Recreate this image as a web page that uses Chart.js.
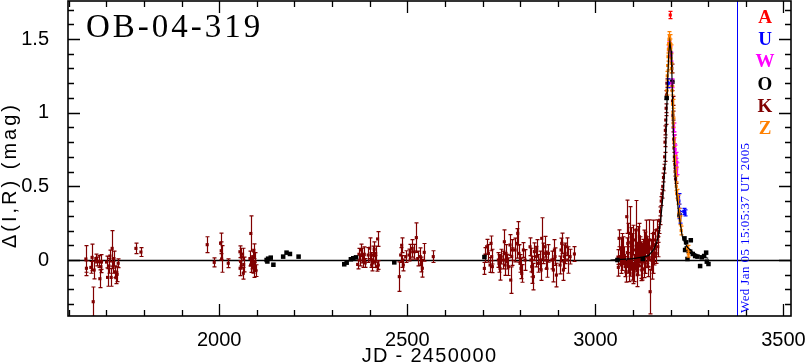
<!DOCTYPE html>
<html lang="en">
<head>
<meta charset="UTF-8" />
<title>OB-04-319</title>
<script src="https://cdn.jsdelivr.net/npm/chart.js@4.4.1/dist/chart.umd.min.js"></script>
<style>
  html, body { margin: 0; padding: 0; background: #fff; }
</style>
</head>
<body>
<canvas id="lc" width="805" height="362"></canvas>
<script>
// data: [JD - 2450000, delta mag, error]
const kPoints = [
  [1645.5,0.007,0.09],[1647,-0.056,0.05],[1658.8,-0.05,0.04],[1662,0.018,0.09],[1665,-0.283,0.1],
  [1667.6,-0.068,0.06],[1672,0.01,0.03],[1675,-0.01,0.03],[1681,-0.01,0.04],[1682.7,-0.127,0.06],
  [1685.4,-0.045,0.04],[1687,-0.014,0.05],[1700.5,-0.014,0.04],[1703.2,-0.118,0.06],[1706.6,-0.04,0.05],
  [1709.3,0.027,0.04],[1712.8,-0.118,0.06],[1715.4,0.079,0.12],[1718,-0.05,0.04],[1720,0.01,0.05],
  [1723.4,-0.08,0.04],[1725.3,-0.12,0.04],[1728.7,-0.097,0.05],[1731.4,-0.022,0.03],
  [1778.5,0.079,0.036],[1791.8,0.054,0.03],
  [1968,0.104,0.054],[1986.7,-0.016,0.03],[2003.7,0.113,0.07],[2005.3,0.063,0.06],[2006.4,0.007,0.09],[2024,-0.022,0.03],
  [2055,0.056,0.04],[2057,-0.01,0.05],[2055.5,-0.056,0.05],[2059,0.02,0.06],[2062,0.04,0.04],[2064,-0.09,0.04],
  [2065,-0.03,0.05],[2081.6,0.01,0.05],[2083.5,-0.034,0.05],[2084,0.18,0.12],[2086,-0.02,0.04],[2089,0.023,0.05],
  [2090,-0.05,0.04],[2092,0.06,0.05],[2093,-0.068,0.05],[2095,-0.01,0.06],[2097.6,-0.072,0.04],
  [2368,-0.03,0.03],[2371.5,0.039,0.04],[2374,0,0.04],[2376.9,0.068,0.04],[2380,0.03,0.05],[2383,-0.01,0.04],
  [2385.6,0.039,0.05],[2388,-0.02,0.03],[2396,0.034,0.05],[2400,0.08,0.07],[2403.5,0,0.05],[2405.3,-0.034,0.04],
  [2408,0.034,0.06],[2412,0.073,0.05],[2414,-0.01,0.04],[2416,0.045,0.05],[2418.6,-0.045,0.03],[2421,0.143,0.05],
  [2423,-0.034,0.03],
  [2478.7,-0.113,0.1],[2482.4,0.034,0.05],[2485,0.1,0.05],[2486,-0.01,0.04],[2489.4,-0.034,0.04],[2495.7,0.023,0.04],
  [2504.5,0.034,0.04],[2508,0.056,0.05],[2513,0.079,0.06],[2518.6,0.056,0.05],[2524,0.152,0.1],[2527.7,0.01,0.05],
  [2534.6,0.023,0.06],[2536.4,-0.03,0.05],[2540,-0.056,0.06],[2545,0.052,0.06],[2569,0.023,0.04],
  [2704.8,-0.057,0.04],[2706.6,0.034,0.05],[2711,0.09,0.05],[2715.5,0.045,0.06],[2719.9,-0.034,0.05],
  [2722.6,0.113,0.05],[2724.3,0.023,0.05],[2726.1,-0.045,0.04],[2742,0,0.05],[2743.8,-0.023,0.06],
  [2746.5,-0.057,0.08],[2749.1,0.023,0.05],[2755.4,0,0.06],[2758,0.124,0.08],[2759.8,-0.034,0.07],
  [2762.4,0.045,0.06],[2766,-0.011,0.05],[2768.7,-0.045,0.06],[2773,0.102,0.07],[2774.9,-0.136,0.09],
  [2777.5,0.023,0.06],[2779.3,0.068,0.07],[2786.4,0.068,0.08],[2790.8,0.113,0.1],[2793.5,0.181,0.08],
  [2797,0.045,0.06],[2799.7,-0.023,0.06],[2802.3,-0.057,0.07],[2804.1,-0.091,0.06],[2808.5,0.068,0.05],
  [2813,0,0.07],[2826.3,0.09,0.06],[2828.9,0,0.08],[2830.7,-0.045,0.07],[2832.5,-0.079,0.08],
  [2835.1,-0.113,0.09],[2837.8,0.057,0.06],[2841.3,0.023,0.07],[2844,0.079,0.06],[2848.4,-0.023,0.06],
  [2852.9,0,0.06],[2855.5,-0.068,0.07],[2857.3,0.147,0.14],[2861.7,0.045,0.07],[2866.2,0.09,0.07],
  [2867.9,0,0.06],[2870.6,-0.057,0.06],[2875,0.045,0.06],[2883.9,0,0.06],[2888.3,-0.068,0.08],
  [2891,0.068,0.07],[2892.8,0.023,0.06],[2896.3,-0.102,0.08],[2906,-0.034,0.06],[2908.7,0.068,0.08],
  [2910.5,0.113,0.07],[2914.9,-0.068,0.07],[2917.6,0.023,0.08],[2919.4,0.045,0.07],[2923.8,0.09,0.06],
  [2926.4,0,0.09],[2932.7,0.023,0.05],[2944.2,0.041,0.05],
  [3060,0.02,0.05],[3061,-0.05,0.06],[3063,0.147,0.057],[3065.7,0.023,0.045],[3067,0.08,0.07],[3068.4,-0.034,0.057],
  [3070,-0.02,0.05],[3072,0.1,0.08],[3074.6,0.068,0.09],[3077,0.03,0.06],[3079,-0.045,0.068],[3081,-0.08,0.07],
  [3083.4,0.294,0.113],[3085,0.05,0.1],[3086.1,0.113,0.136],[3087.9,0,0.09],[3089.6,-0.079,0.068],[3091,-0.03,0.08],
  [3092.3,0.181,0.181],[3094,0.12,0.1],[3095,0.045,0.113],[3096.7,0.09,0.09],[3098.5,-0.023,0.113],[3100,-0.09,0.07],
  [3101.2,0.136,0.1],[3103.8,-0.057,0.09],[3105.6,0.068,0.136],[3107,0.01,0.09],[3108.2,0.204,0.2],[3110,0.023,0.09],
  [3111,-0.1,0.08],[3112.7,0.113,0.113],[3114.5,-0.034,0.068],[3116,0.05,0.07],[3117.1,0.158,0.09],[3118.9,0.068,0.09],
  [3120,-0.04,0.1],[3121.5,0,0.124],[3123.3,-0.068,0.068],[3125.1,0.023,0.09],[3127,0.06,0.08],[3129,-0.06,0.06],
  [3130.4,0.113,0.09],[3132.2,-0.023,0.068],[3133,0.09,0.1],[3134.8,0.158,0.113],[3136.6,0.068,0.09],[3138,0.02,0.07],
  [3139.3,-0.045,0.068],[3141,0.045,0.09],[3143.7,0.136,0.136],[3145.5,-0.215,0.15],[3147,0.08,0.06],[3148.1,0,0.068],
  [3149.9,0.09,0.09],[3151,-0.06,0.07],[3152.6,-0.023,0.068],[3154.3,0.181,0.09],[3156,0.05,0.06],[3157,0.023,0.057],
  [3158.8,0.136,0.068],[3161.4,0.045,0.068],[3163.2,0.204,0.068],[3165.9,0.09,0.068],
  [3167,0.16,0.04],[3169,0.22,0.04],[3171,0.27,0.03],[3173,0.33,0.03],[3175,0.4,0.03],[3177,0.45,0.03],
  [3179,0.5,0.03],[3181,0.56,0.03],[3183,0.62,0.03],[3184,0.7,0.03],[3185,0.8,0.03],[3186,0.88,0.03],
  [3187,0.95,0.03],[3188,1.03,0.03],[3189,1.12,0.03],[3190,1.2,0.03],
  [3203,1.3,0.03],[3204,1.18,0.03],[3205,1.08,0.03],[3206,0.98,0.03],[3207,0.9,0.03],[3208,0.82,0.03],
  [3209,0.76,0.03],[3210,0.7,0.03],[3211,0.65,0.03],[3212,0.6,0.03],[3213,0.55,0.03]
];
const oPoints = [
  [2126,0],[2128,-0.01],[2130,0.009],[2137,0.016],[2144,-0.032],[2170,0.023],[2179,0.05],[2188,0.041],[2211,0.023],
  [2332.4,-0.029],[2338.8,-0.018],[2350,0.005],[2356.4,0.012],[2363.6,0.018],[2465.4,-0.016],[2705,0.02],
  [3058.6,0],[3126,0.007],[3189.5,1.1],[3204.5,1.21],[3223.5,0.305],[3236.8,0.147],[3238.5,0.068],[3241.2,0.12],
  [3243,0.079],[3244.8,0.007],[3248,0.06],[3251.9,0.057],[3253.6,0.134],[3258.9,0.041],[3265.2,0.027],
  [3271.4,0.023],[3278.4,-0.041],[3282.9,0.018],[3289.1,0.027],[3294.4,0.05],[3296.2,-0.011],[3300.6,-0.027]
];
const zPoints = [
  [3190,1.15,0.03],[3191,1.25,0.03],[3192,1.32,0.03],[3193,1.38,0.03],[3194,1.43,0.03],[3195,1.47,0.03],
  [3196,1.5,0.03],[3197,1.52,0.03],[3198,1.5,0.03],[3199,1.47,0.03],[3200,1.43,0.03],[3201,1.37,0.03],
  [3202,1.3,0.03],[3204,1.15,0.03],[3205,1.06,0.03],[3206,1.0,0.03],[3207,0.93,0.03],[3209,0.8,0.03],
  [3211,0.68,0.03],[3213,0.6,0.03],[3215,0.5,0.03],[3216,0.45,0.03],[3219,0.41,0.03],[3222,0.32,0.03],
  [3225,0.27,0.03],[3228,0.2,0.03],[3245,0.08,0.02],[3247,0.04,0.02]
];
const wPoints = [
  [3196,1.45,0.03],[3198,1.42,0.03],[3200,1.38,0.03],[3203,1.2,0.03],[3208,0.9,0.03],
  [3210,0.82,0.03],[3212,0.75,0.03],[3214,0.7,0.03],[3215,0.66,0.03],[3216,0.62,0.04]
];
const uPoints = [
  [3194,1.2,0.03],[3222,0.4,0.05],[3223,0.33,0.05],[3224,0.29,0.04],[3235,0.33,0.02],[3238,0.32,0.02]
];
const aPoints = [[3199,1.663,0.025]];

// model curve
const modelJD  = [3040,3060,3100,3125,3141,3155,3163,3168,3174,3179,3183,3186,3189,3192,3195,3198,
                  3201,3203,3205,3207,3210,3213,3217,3221,3226,3231,3237,3245,3258,3270,3285,3300];
const modelMag = [0,0.003,0.01,0.02,0.03,0.07,0.12,0.17,0.28,0.42,0.57,0.68,0.95,1.22,1.4,1.48,
                  1.42,1.3,1.09,0.88,0.68,0.53,0.42,0.33,0.24,0.16,0.12,0.085,0.055,0.035,0.022,0.012];

const xRange = [1598, 3520];
const yRange = [-0.38, 1.758];
const xTicks = [2000, 2500, 3000, 3500];
const yTicks = [0, 0.5, 1, 1.5];
const yTickLabels = ['0', '0.5', '1', '1.5'];
const xMinorStep = 100;
const yMinorStep = 0.1;
const stampJD = 3376;
const stampText = 'Wed Jan 05 15:05:37 UT 2005';
const obsLetters = ['A', 'U', 'W', 'O', 'K', 'Z'];
const obsColors = ['#ff0000', '#0000ff', '#ff00ff', '#000000', '#800000', '#ff8000'];

const toXY = (arr) => arr.map((p) => ({ x: p[0], y: p[1], e: p[2] }));

function pointSet(label, arr, color, radius, order, bars) {
  return {
    label,
    data: toXY(arr),
    backgroundColor: color,
    borderColor: color,
    pointStyle: 'rect',
    pointRadius: radius,
    pointBorderWidth: 0,
    showLine: false,
    errorBars: bars,
    order,
  };
}

const lcPlugin = {
  id: 'lightcurve',
  beforeDatasetsDraw(chart) {
    const { ctx, chartArea: a, scales } = chart;
    const y0 = Math.round(scales.y.getPixelForValue(0)) + 0.5;
    ctx.save();
    ctx.strokeStyle = '#000';
    ctx.lineWidth = 1.3;
    ctx.beginPath();
    ctx.moveTo(a.left, y0);
    ctx.lineTo(a.right, y0);
    ctx.stroke();
    ctx.restore();
  },
  beforeDatasetDraw(chart, args) {
    const ds = chart.data.datasets[args.index];
    if (!ds.errorBars) return;
    const { ctx, chartArea: a, scales } = chart;
    ctx.save();
    ctx.beginPath();
    ctx.rect(a.left, a.top, a.right - a.left, a.bottom - a.top);
    ctx.clip();
    ctx.strokeStyle = ds.borderColor;
    ctx.lineWidth = 1.2;
    ctx.beginPath();
    ds.data.forEach((p) => {
      const px = Math.round(scales.x.getPixelForValue(p.x)) + 0.5;
      const y1 = scales.y.getPixelForValue(p.y + p.e);
      const y2 = scales.y.getPixelForValue(p.y - p.e);
      ctx.moveTo(px, y1);
      ctx.lineTo(px, y2);
      ctx.moveTo(px - 2, y1);
      ctx.lineTo(px + 2, y1);
      ctx.moveTo(px - 2, y2);
      ctx.lineTo(px + 2, y2);
    });
    ctx.stroke();
    ctx.restore();
  },
  afterDraw(chart) {
    const { ctx, chartArea: a, scales } = chart;
    const xs = scales.x, ys = scales.y;
    ctx.save();

    // time stamp line and text
    const sx = Math.round(xs.getPixelForValue(stampJD)) + 0.5;
    ctx.strokeStyle = '#0000ff';
    ctx.lineWidth = 1;
    ctx.beginPath();
    ctx.moveTo(sx, a.top);
    ctx.lineTo(sx, a.bottom);
    ctx.stroke();
    ctx.save();
    ctx.translate(sx + 8, a.bottom - 3);
    ctx.rotate(-Math.PI / 2);
    ctx.fillStyle = '#0000ff';
    ctx.font = '13px "Liberation Serif"';
    ctx.letterSpacing = '0.4px';
    ctx.textAlign = 'left';
    ctx.textBaseline = 'middle';
    ctx.fillText(stampText, 0, 0);
    ctx.restore();

    // frame
    ctx.strokeStyle = '#000';
    ctx.lineWidth = 1.6;
    ctx.strokeRect(a.left, a.top, a.right - a.left, a.bottom - a.top);

    // ticks on all four sides, pointing inwards
    ctx.lineWidth = 1.3;
    ctx.beginPath();
    for (let v = 1600; v <= xRange[1]; v += xMinorStep) {
      const px = Math.round(xs.getPixelForValue(v)) + 0.5;
      const len = xTicks.includes(v) ? 12 : 6;
      ctx.moveTo(px, a.bottom);
      ctx.lineTo(px, a.bottom - len);
      ctx.moveTo(px, a.top);
      ctx.lineTo(px, a.top + len);
    }
    for (let i = -3; i <= 17; i++) {
      const v = i * yMinorStep;
      const py = Math.round(ys.getPixelForValue(v)) + 0.5;
      const len = i % 5 === 0 ? 12 : 6;
      ctx.moveTo(a.left, py);
      ctx.lineTo(a.left + len, py);
      ctx.moveTo(a.right, py);
      ctx.lineTo(a.right - len, py);
    }
    ctx.stroke();

    // event name
    ctx.fillStyle = '#000';
    ctx.font = '33px "Liberation Serif"';
    ctx.letterSpacing = '3px';
    ctx.textAlign = 'left';
    ctx.textBaseline = 'alphabetic';
    ctx.fillText('OB-04-319', 86, 37);

    // observatory letters
    ctx.letterSpacing = '0px';
    ctx.font = 'bold 19px "Liberation Serif"';
    ctx.textAlign = 'center';
    ctx.textBaseline = 'middle';
    obsLetters.forEach((s, i) => {
      ctx.fillStyle = obsColors[i];
      ctx.fillText(s, 765, 18 + i * 22.2);
    });

    // axis titles
    ctx.fillStyle = '#000';
    ctx.font = '20px "Liberation Sans"';
    ctx.letterSpacing = '1.3px';
    ctx.fillText('JD - 2450000', (a.left + a.right) / 2, 356);
    ctx.save();
    ctx.translate(10, 175);
    ctx.rotate(-Math.PI / 2);
    ctx.letterSpacing = '3px';
    ctx.fillText('Δ(I,R) (mag)', 0, 0);
    ctx.restore();

    ctx.restore();
  },
};

new Chart(document.getElementById('lc'), {
  type: 'scatter',
  data: {
    datasets: [
      {
        label: 'model',
        data: modelJD.map((x, i) => ({ x, y: modelMag[i] })),
        showLine: true,
        borderColor: '#000',
        borderWidth: 1.2,
        pointRadius: 0,
        tension: 0,
        order: 0,
      },
      pointSet('A', aPoints, '#ff0000', 2.2, 1, true),
      pointSet('Z', zPoints, '#ff8000', 2.2, 2, true),
      pointSet('U', uPoints, '#0000ff', 2.2, 3, true),
      pointSet('W', wPoints, '#ff00ff', 2.2, 4, true),
      pointSet('O', oPoints, '#000000', 3.2, 5, false),
      pointSet('K', kPoints, '#800000', 2.2, 6, true),
    ],
  },
  options: {
    responsive: false,
    devicePixelRatio: 1,
    animation: false,
    layout: { autoPadding: false, padding: { top: 1, right: 14, bottom: 0, left: 0 } },
    plugins: { legend: { display: false }, tooltip: { enabled: false } },
    scales: {
      x: {
        type: 'linear',
        min: xRange[0],
        max: xRange[1],
        grid: { display: false },
        border: { display: false },
        ticks: {
          color: '#000',
          padding: 4,
          font: { family: 'Liberation Sans', size: 20 },
          callback: (v) => String(v),
        },
        afterBuildTicks: (s) => { s.ticks = xTicks.map((v) => ({ value: v })); },
        afterFit: (s) => { s.height = 46; s.paddingLeft = 0; s.paddingRight = 0; },
      },
      y: {
        type: 'linear',
        min: yRange[0],
        max: yRange[1],
        grid: { display: false },
        border: { display: false },
        ticks: {
          color: '#000',
          padding: 11,
          font: { family: 'Liberation Sans', size: 20 },
          callback: (v) => yTickLabels[yTicks.indexOf(v)],
        },
        afterBuildTicks: (s) => { s.ticks = yTicks.map((v) => ({ value: v })); },
        afterFit: (s) => { s.width = 68; s.paddingTop = 0; s.paddingBottom = 0; },
      },
    },
  },
  plugins: [lcPlugin],
});
</script>
</body>
</html>
